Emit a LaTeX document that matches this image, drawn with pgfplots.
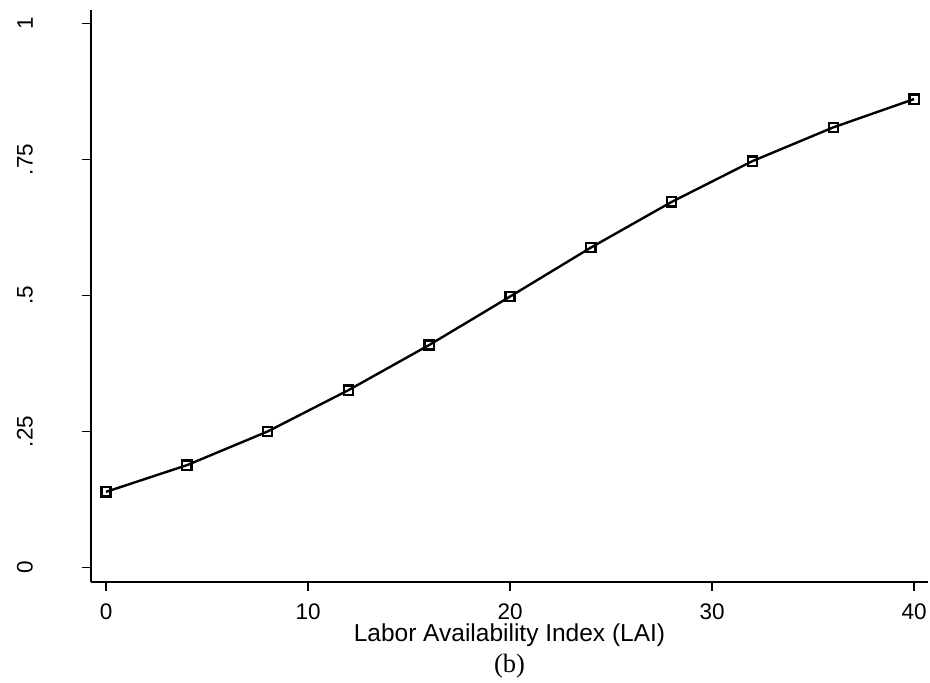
\documentclass[border=0pt]{standalone}
\usepackage{fontspec}
\setmainfont{Liberation Sans}
\newfontfamily\seriffont{Liberation Serif}
\usepackage{pgfplots}
\pgfplotsset{compat=1.18}
\begin{document}
\begin{tikzpicture}
\begin{axis}[
  scale only axis,
  width=837pt, height=572pt,
  xmin=-0.743, xmax=40.69,
  ymin=-0.0267, ymax=1.0248,
  axis x line=bottom, axis y line=left,
  axis line style={-, line width=1.3pt},
  tick align=outside,
  major tick length=9pt,
  tick style={line width=1.3pt, black},
  xtick={0,10,20,30,40},
  ytick={0,0.25,0.5,0.75,1},
  yticklabels={0,.25,.5,.75,1},
  /pgf/number format/assume math mode=true,
  tick label style={font=\fontsize{22.5}{26}\selectfont},
  yticklabel style={rotate=90, anchor=south, inner sep=0pt},
  yticklabel shift=49pt,
  xticklabel style={anchor=north, inner sep=0pt},
  xticklabel shift=13pt,
  xlabel={Labor Availability Index (LAI)},
  xlabel style={font=\fontsize{24.5}{28}\selectfont, at={(axis description cs:0.5,-0.0927)}, anchor=center, inner sep=0pt},
  clip=false,
]
\addplot[black, line width=2.4pt, mark=square, mark size=4.6pt, mark options={line width=2.3pt, fill=none}]
coordinates {
(0,0.139) (4,0.188) (8,0.250) (12,0.326) (16,0.409) (20,0.498)
(24,0.588) (28,0.672) (32,0.747) (36,0.809) (40,0.861)
};
\node[font=\seriffont\fontsize{26.5}{30}\selectfont, inner sep=0pt] at (axis description cs:0.5,-0.147) {(b)};
\end{axis}
\path (current axis.south west) ++(-91pt,-101pt) rectangle ++(930pt,683pt);
\end{tikzpicture}
\end{document}
